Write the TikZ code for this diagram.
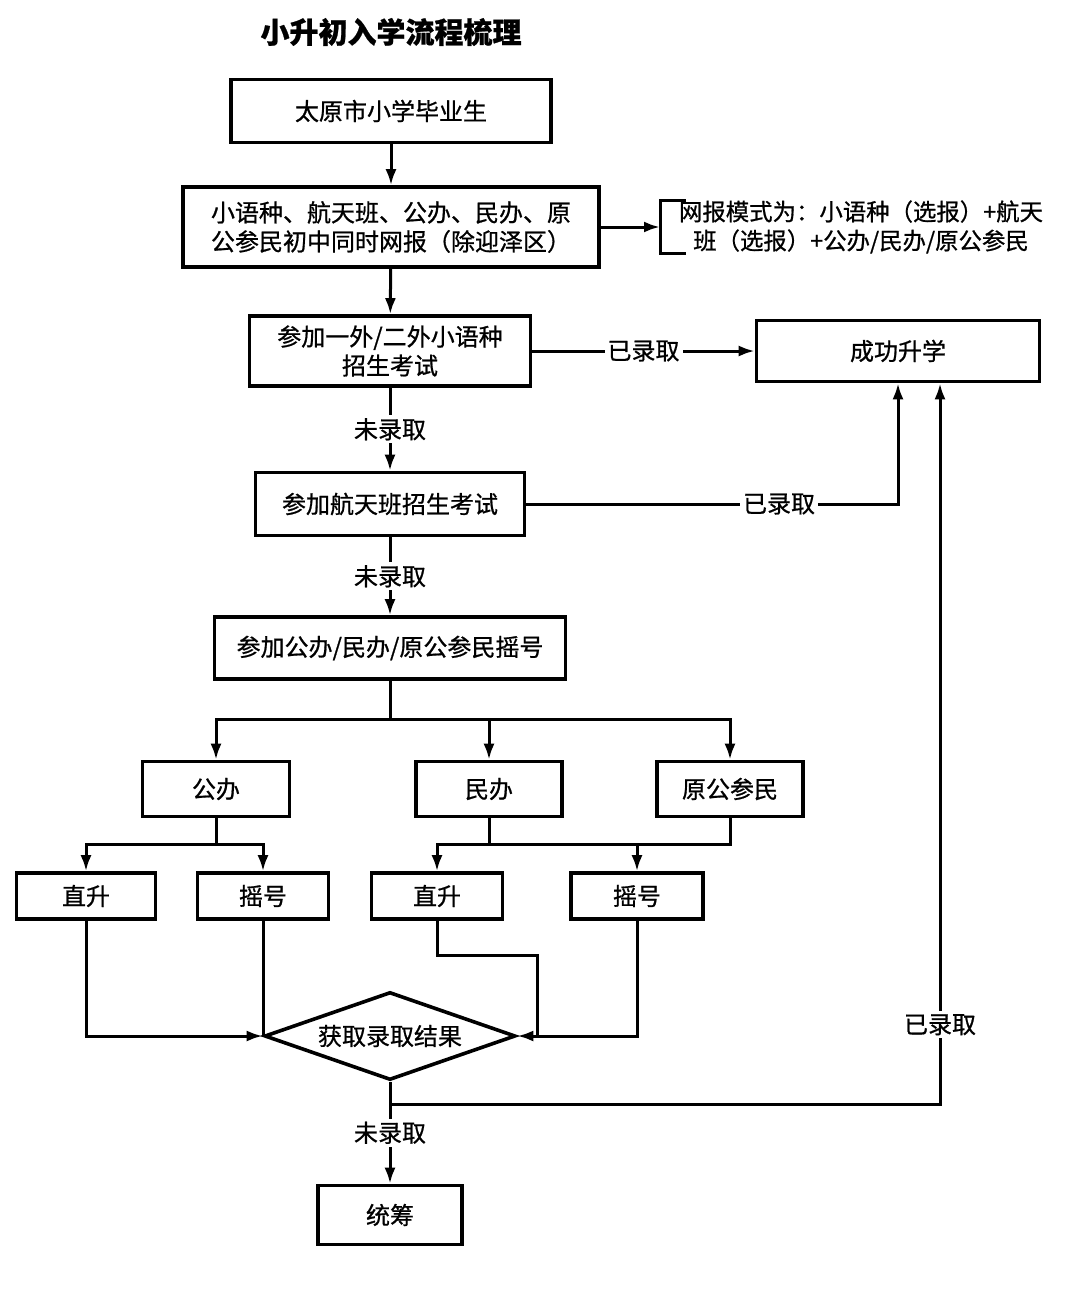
\documentclass[tikz,border=0pt]{standalone}
\usepackage{fontspec}
\setmainfont{Noto Sans CJK SC}[FakeBold=0.8]
\usetikzlibrary{arrows,arrows.meta}
\usetikzlibrary{shapes,positioning}

\tikzset{
  stage/.style={draw,line width=1.8pt,inner sep=2pt,align=center},
  tag/.style={fill=white,inner sep=1.5pt},
  flow/.style={line width=1.5pt,-{Latex[length=8pt,width=5.5pt]}},
  wire/.style={line width=1.5pt},
}

\begin{document}
\begin{tikzpicture}[x=0.5pt,y=-0.5pt,font=\fontsize{12pt}{14.5pt}\selectfont]
\useasboundingbox (0,0) rectangle (1080,1292);
\node[font=\fontsize{14.5pt}{16pt}\selectfont\bfseries] (title) at (391,32) {小升初入学流程梳理};

\node[stage,minimum width=160pt,minimum height=31.5pt] (grad) at (391,111) {太原市小学毕业生};
\node[stage,minimum width=208pt,minimum height=40pt] (apply) at (391,227) {小语种、航天班、公办、民办、原\\公参民初中同时网报（除迎泽区）};
\node[align=center,inner sep=0pt,font=\fontsize{11.7pt}{14.5pt}\selectfont] (mode) at (861,227) {网报模式为：小语种（选报）+航天\\班（选报）+公办/民办/原公参民};
\coordinate (brk) at (660,227);
\draw[wire] (686,200) -- (660,200) -- (660,253) -- (686,253);

\node[stage,minimum width=140.5pt,minimum height=35pt] (exam1) at (390,351) {参加一外/二外小语种\\招生考试};
\node[stage,minimum width=141.5pt,minimum height=30.5pt] (success) at (898,351) {成功升学};
\node[stage,minimum width=134.5pt,minimum height=31.5pt] (exam2) at (390,504) {参加航天班招生考试};
\node[stage,minimum width=175.5pt,minimum height=31pt] (lottery) at (390,648) {参加公办/民办/原公参民摇号};

\node[stage,minimum width=73.5pt,minimum height=27.5pt] (pub) at (216,789) {公办};
\node[stage,minimum width=73pt,minimum height=27.5pt] (priv) at (489,789) {民办};
\node[stage,minimum width=73pt,minimum height=27.5pt] (orig) at (730,789) {原公参民};
\node[stage,minimum width=69.5pt,minimum height=23pt] (pubdir) at (86,896) {直升};
\node[stage,minimum width=65.5pt,minimum height=23pt] (publot) at (263,896) {摇号};
\node[stage,minimum width=65.5pt,minimum height=23pt] (privdir) at (437,896) {直升};
\node[stage,minimum width=66pt,minimum height=23pt] (privlot) at (637,896) {摇号};

\node[draw,line width=1.8pt,diamond,aspect=2.85,inner sep=0pt,minimum width=125.5pt,minimum height=44pt] (result) at (390,1036) {获取录取结果};
\node[stage,minimum width=72pt,minimum height=29.5pt] (pool) at (390,1215) {统筹};

\draw[flow] (grad) -- (apply);
\draw[flow] (apply.east) -- (brk);
\draw[flow] (apply) -- (exam1);
\draw[flow] (exam1) -- (success) node[tag,midway]{已录取};
\draw[flow] (exam1) -- (exam2) node[tag,midway]{未录取};
\draw[flow] (exam2.east) -| (success.south) node[tag,pos=0.34]{已录取};
\draw[flow] (exam2) -- (lottery) node[tag,midway]{未录取};

\coordinate (fork) at (390,719);
\draw[wire] (lottery.south) -- (fork);
\draw[flow] (fork) -| (pub.north);
\draw[flow] (fork) -| (orig.north);
\draw[flow] (fork -| priv.north) -- (priv.north);

\coordinate (pubfork) at (216,844);
\draw[wire] (pub.south) -- (pubfork);
\draw[flow] (pubfork) -| (pubdir.north);
\draw[flow] (pubfork) -| (publot.north);

\coordinate (privfork) at (489,844);
\draw[wire] (priv.south) -- (privfork);
\draw[wire] (orig.south) |- (privfork);
\draw[flow] (privfork) -| (privdir.north);
\draw[flow] (privfork -| privlot.north) -- (privlot.north);

\draw[flow] (pubdir.south) |- (result.west);
\draw[wire] (publot.south) -- (publot.south |- result.west);
\draw[flow] (privlot.south) |- (result.east);
\coordinate (jog) at (537,955);
\draw[wire] (privdir.south) |- (jog) -- (jog |- result.east);

\coordinate (back) at (390,1104);
\draw[flow] (result.south) -- (pool.north) node[tag,midway]{未录取};
\draw[flow] (back) -| ([xshift=21pt]success.south) node[tag,pos=0.555]{已录取};
\end{tikzpicture}
\end{document}
